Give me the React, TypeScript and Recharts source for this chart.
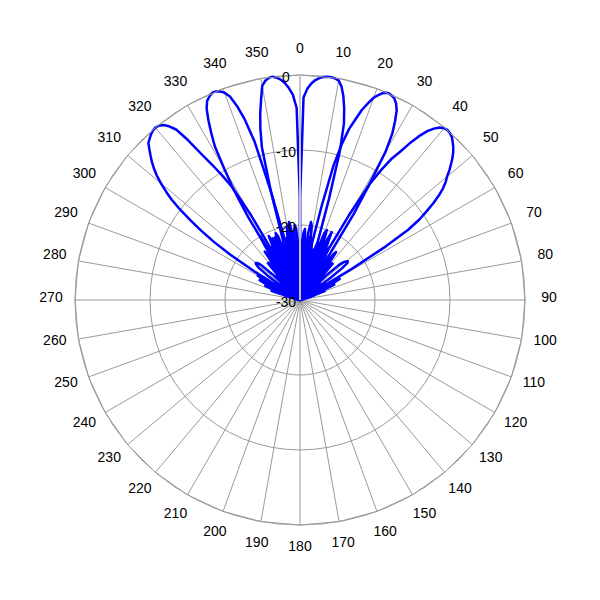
import React from 'react';
import { RadarChart, Radar, PolarGrid, PolarAngleAxis, PolarRadiusAxis } from 'recharts';

// angle grid (degrees, negative = left of 0)
const angles = [
  -75, -74, -73, -72, -71, -70, -69, -68, -67, -66,
  -65, -64, -63, -62, -61, -60, -59, -58, -57, -56,
  -55, -54, -53, -52, -51, -50, -49, -48, -47, -46,
  -45, -44, -43, -42, -41, -40, -39, -38, -37, -36,
  -35, -34, -33, -32, -31, -30, -29, -28, -27, -26,
  -25, -24, -23, -22, -21, -20, -19, -18, -17, -16,
  -15, -14, -13, -12, -11, -10, -9, -8, -7, -6,
  -5, -4, -3, -2, -1, 0, 1, 2, 3, 4,
  5, 6, 7, 8, 9, 10, 11, 12, 13, 14,
  15, 16, 17, 18, 19, 20, 21, 22, 23, 24,
  25, 26, 27, 28, 29, 30, 31, 32, 33, 34,
  35, 36, 37, 38, 39, 40, 41, 42, 43, 44,
  45, 46, 47, 48, 49, 50, 51, 52, 53, 54,
  55, 56, 57, 58, 59, 60, 61, 62, 63, 64,
  65, 66, 67, 68, 69, 70, 71, 72, 73, 74,
  75,
];

// beam steered to 320 deg (-40)
const beamM40 = [
  -28, -30, -27, -26, -27.5, -30, -26.5, -25, -26, -30,
  -25, -24, -25, -30, -24, -23.5, -30, -23, -19, -16.2,
  -14, -12, -10, -8.3, -7.0, -5.8, -4.7, -3.8, -3.0, -2.3,
  -1.6, -0.9, -0.6, -0.3, -0.1, 0, -0.1, -0.4, -1.0, -1.9,
  -4.0, -6.6, -8.5, -10.4, -12.5, -17, -25, -30, -22, -20.5,
  -21.5, -28, -22.5, -21, -22, -28, -23.5, -22, -23, -30,
  -23, -22.5, -24.5, -29, -23.5, -23, -24, -30, -24, -23.5,
  -25, -30, -24.5, -24, -25.5, -30, -25, -24.5, -26, -30,
  -25.5, -25, -27, -30, -26, -25.5, -27, -30, -26.5, -26.5,
  -30, -27.5, -27, -29, -30, -28, -27.5, -30, -28.5, -28,
  -30, -28.5, -29, -30, -28.5, -28, -30, -29, -29.5, -30,
  -29, -28.5, -30, -30, -29, -29, -30, -30, -30, -30,
  -30, -30, -30, -30, -30, -30, -30, -30, -30, -30,
  -30, -30, -30, -30, -30, -30, -30, -30, -30, -30,
  -30, -30, -30, -30, -30, -30, -30, -30, -30, -30,
  -30,
];

// beam steered to 337.5 deg (-22.5)
const beamM23 = [
  -30, -30, -29, -30, -28.5, -29, -30, -28, -28, -30,
  -28.5, -27, -27.5, -30, -27, -26, -27, -30, -27, -26,
  -27, -30, -24.5, -23, -22.5, -22.3, -22.5, -23, -25, -30,
  -28, -27, -30, -25.5, -23.5, -23.5, -25, -30, -24, -22,
  -22.5, -30, -23, -17, -12.8, -9.8, -6.6, -4.8, -3.1, -1.6,
  -0.7, -0.3, 0, 0, -0.2, -0.6, -1.3, -2.8, -4.9, -8.0,
  -15, -22, -30, -24, -21, -20, -21, -24, -29, -22.5,
  -21.5, -22.5, -29, -23, -22.5, -24, -30, -24, -23, -24.5,
  -29, -24.5, -24, -25, -30, -25, -24.5, -26, -30, -25.5,
  -25, -26.5, -30, -26, -25.5, -27, -30, -26.5, -26, -28,
  -30, -28, -27.5, -29, -30, -28.5, -28, -29.5, -30, -29,
  -28.5, -30, -30, -29, -29, -30, -30, -30, -30, -30,
  -30, -30, -30, -30, -30, -30, -30, -30, -30, -30,
  -30, -30, -30, -30, -30, -30, -30, -30, -30, -30,
  -30, -30, -30, -30, -30, -30, -30, -30, -30, -30,
  -30,
];

// beam steered to 352.5 deg (-7.5)
const beamM8 = [
  -30, -30, -30, -28.5, -29, -30, -27.5, -28, -30, -28,
  -26.5, -27, -30, -28, -26.5, -27, -30, -28.5, -27, -27.5,
  -30, -28, -27.5, -30, -27.5, -27, -30, -27, -26.5, -30,
  -27, -25.5, -26, -30, -26, -25, -25.5, -30, -25.5, -24,
  -24, -29, -21.5, -20, -23.5, -29, -23.5, -22, -23, -29,
  -22, -21, -22.5, -29, -21.5, -20.5, -21, -23, -30, -22,
  -15, -9.0, -6.5, -4.5, -2.8, -1.0, -0.4, -0.1, 0, -0.2,
  -0.5, -1.0, -1.7, -2.6, -4.4, -17, -30, -23, -21, -20.5,
  -22, -29, -23.5, -21.5, -22, -29, -24, -22.5, -23.5, -29,
  -24, -23, -24.5, -30, -24.5, -24, -25.5, -30, -25, -24.5,
  -27, -30, -26.5, -26, -27.5, -30, -27, -26.5, -28, -30,
  -27.5, -27, -28.5, -30, -28, -27.5, -29, -30, -28.5, -29,
  -30, -29, -29, -30, -30, -29.5, -30, -30, -30, -30,
  -30, -30, -30, -30, -30, -30, -30, -30, -30, -30,
  -30, -30, -30, -30, -30, -30, -30, -30, -30, -30,
  -30,
];

// beam steered to 7.5 deg
const beamP8 = [
  -30, -30, -30, -30, -29.5, -30, -29, -29, -30, -30,
  -29, -28.5, -30, -30, -28.5, -28, -29.5, -30, -28, -28,
  -29, -30, -27.5, -27.5, -29, -30, -28, -27.5, -28.5, -30,
  -27.5, -27, -28.5, -30, -27, -26.5, -28, -30, -27, -26.5,
  -27.5, -30, -26, -25.5, -27, -30, -26, -25.5, -26.5, -30,
  -24, -23.5, -24.5, -29, -23.5, -23, -24, -29, -23, -22.5,
  -23.5, -29, -22, -21.5, -22.5, -29, -20, -19.5, -20.5, -29,
  -21, -20, -20.5, -23, -30, -17, -3.0, -1.8, -1.1, -0.6,
  -0.3, -0.1, 0, 0, -0.1, -0.3, -1.0, -2.2, -3.8, -5.8,
  -9.5, -16, -22, -30, -23, -20.5, -20, -21.5, -29, -22.5,
  -21, -22, -29, -23, -22, -23.5, -29, -24, -23, -24.5,
  -30, -25.5, -25, -26.5, -30, -26, -25.5, -27, -30, -26.5,
  -26, -27.5, -30, -27, -26.5, -28, -30, -27.5, -27, -28.5,
  -30, -27.5, -27, -28.5, -30, -28, -27.5, -29, -30, -29,
  -28.5, -30, -30, -29.5, -30, -30, -30, -30, -30, -30,
  -30,
];

// beam steered to 23 deg
const beamP23 = [
  -30, -30, -30, -30, -30, -30, -30, -30, -30, -30,
  -30, -30, -29.5, -30, -30, -29, -29, -30, -30, -28.5,
  -28.5, -30, -30, -28.5, -28, -29.5, -30, -28, -28, -29,
  -30, -27.5, -27.5, -29, -30, -27.5, -27, -28.5, -30, -27,
  -26.5, -28, -30, -27, -26.5, -28, -30, -26.5, -26, -27.5,
  -30, -26.5, -26, -27, -30, -26, -25.5, -27, -30, -25.5,
  -24, -25.5, -29, -25, -24.5, -25.5, -29, -24.5, -24, -24.5,
  -29, -24, -23, -24.5, -29, -23.5, -22, -23, -29, -21,
  -22.5, -29, -21, -19.5, -20, -22, -30, -22, -17, -11.5,
  -8.5, -6.3, -4.9, -3.4, -2.3, -1.3, -0.7, -0.2, 0, -0.1,
  -0.3, -0.8, -1.6, -3.0, -4.6, -7.2, -12.2, -16.5, -23, -30,
  -25, -22.5, -22, -23.5, -30, -24.5, -23.5, -23.5, -25.5, -30,
  -28, -30, -25, -23, -22.3, -22, -21.8, -22, -23, -25,
  -30, -27, -26, -27, -30, -26.5, -25.5, -26.5, -30, -26,
  -25, -26, -30, -27, -26.5, -27.5, -30, -28, -28.5, -30,
  -30,
];

// beam steered to 41 deg
const beamP40 = [
  -30, -30, -30, -30, -30, -30, -30, -30, -30, -30,
  -30, -30, -30, -30, -30, -30, -30, -30, -30, -30,
  -30, -30, -30, -29.5, -30, -30, -29, -29.5, -30, -30,
  -29, -28.5, -30, -30, -28.5, -28, -29.5, -30, -28, -28,
  -29, -30, -27.5, -27.5, -29, -30, -27, -27, -28.5, -30,
  -27, -26.5, -28, -30, -26.5, -26.5, -28, -30, -26.5, -26,
  -27.5, -30, -26, -25.5, -27, -30, -25.5, -25.5, -27, -30,
  -24.5, -24, -25.5, -29, -26.5, -25, -25.5, -29, -25.5, -25,
  -24.5, -25.5, -29, -25, -24, -24.5, -29, -24, -23, -23.5,
  -29, -23, -22, -23, -29, -22, -21, -22, -29, -21.5,
  -20, -21.5, -23, -30, -23, -17, -12, -9.5, -7.5, -6.2,
  -4.5, -3.0, -1.8, -1.0, -0.4, -0.1, 0, -0.1, -0.3, -0.7,
  -1.1, -1.6, -2.2, -2.9, -3.6, -4.4, -5.0, -5.8, -6.8, -8.0,
  -9.4, -10.8, -12.8, -16.5, -22, -30, -25, -24, -25, -30,
  -25.5, -25, -26.5, -30, -27, -26.5, -28, -30, -29, -30,
  -30,
];

const angleTicks = [
  -170, -160, -150, -140, -130, -120, -110, -100, -90, -80,
  -70, -60, -50, -40, -30, -20, -10, 0, 10, 20,
  30, 40, 50, 60, 70, 80, 90, 100, 110, 120,
  130, 140, 150, 160, 170, 180,
];
const radiusTicks = [-30, -20, -10, 0];

const table = angles.map((angle, i) => ({
  angle,
  m40: beamM40[i],
  m23: beamM23[i],
  m8: beamM8[i],
  p8: beamP8[i],
  p23: beamP23[i],
  p40: beamP40[i],
}));

const beamKeys = ['m40', 'm23', 'm8', 'p8', 'p23', 'p40'];

const FONT = '"Liberation Sans", Arial, sans-serif';

const AngleTick = (props: any) => {
  const { x, y, payload } = props;
  const v = payload.value < 0 ? payload.value + 360 : payload.value;
  return (
    <text x={x} y={y - 3} textAnchor="middle" dominantBaseline="central" fontFamily={FONT} fontSize={14} fill="#000">
      {v}
    </text>
  );
};

const RadiusTick = (props: any) => {
  const { x, y, payload } = props;
  return (
    <text x={x - 14} y={y + 2} textAnchor="middle" dominantBaseline="central" fontFamily={FONT} fontSize={14} fill="#000">
      {payload.value}
    </text>
  );
};

export default function App() {
  return (
    <div style={{ position: 'absolute', left: 0, top: 0, width: 600, height: 600, background: '#fff' }}>
      <RadarChart
        width={600}
        height={600}
        data={table}
        cx={300}
        cy={300}
        innerRadius={0}
        outerRadius={225}
        startAngle={270}
        endAngle={-90}
        margin={{ top: 0, right: 0, bottom: 0, left: 0 }}
      >
        <PolarGrid gridType="circle" stroke="#9a9a9a" strokeWidth={1} />
        <PolarAngleAxis
          dataKey="angle"
          type="number"
          domain={[-180, 180]}
          ticks={angleTicks}
          tickCount={36}
          tickSize={24}
          tickLine={false}
          axisLine={{ stroke: '#9a9a9a' }}
          tick={<AngleTick />}
        />
        <PolarRadiusAxis radiusAxisId="r1" angle={0} domain={[-30, 0]} ticks={radiusTicks} type="number" tick={false} tickLine={false} axisLine={{ stroke: '#c6c6c6', strokeWidth: 2 }} />
        <PolarRadiusAxis radiusAxisId="r2" angle={-90} domain={[-30, 0]} ticks={radiusTicks} type="number" tick={false} tickLine={false} axisLine={{ stroke: '#c6c6c6', strokeWidth: 2 }} />
        <PolarRadiusAxis radiusAxisId="r3" angle={180} domain={[-30, 0]} ticks={radiusTicks} type="number" tick={false} tickLine={false} axisLine={{ stroke: '#c6c6c6', strokeWidth: 2 }} />
        <PolarRadiusAxis
          angle={90}
          domain={[-30, 0]}
          ticks={radiusTicks}
          tickCount={4}
          type="number"
          tickLine={false}
          axisLine={{ stroke: '#c6c6c6', strokeWidth: 2 }}
          tick={<RadiusTick />}
        />
        {beamKeys.map((k) => (
          <Radar
            key={k}
            dataKey={k}
            stroke="#0000ff"
            strokeWidth={2.5}
            strokeLinejoin="round"
            fill="none"
            fillOpacity={0}
            dot={false}
            isAnimationActive={false}
          />
        ))}
      </RadarChart>
    </div>
  );
}
